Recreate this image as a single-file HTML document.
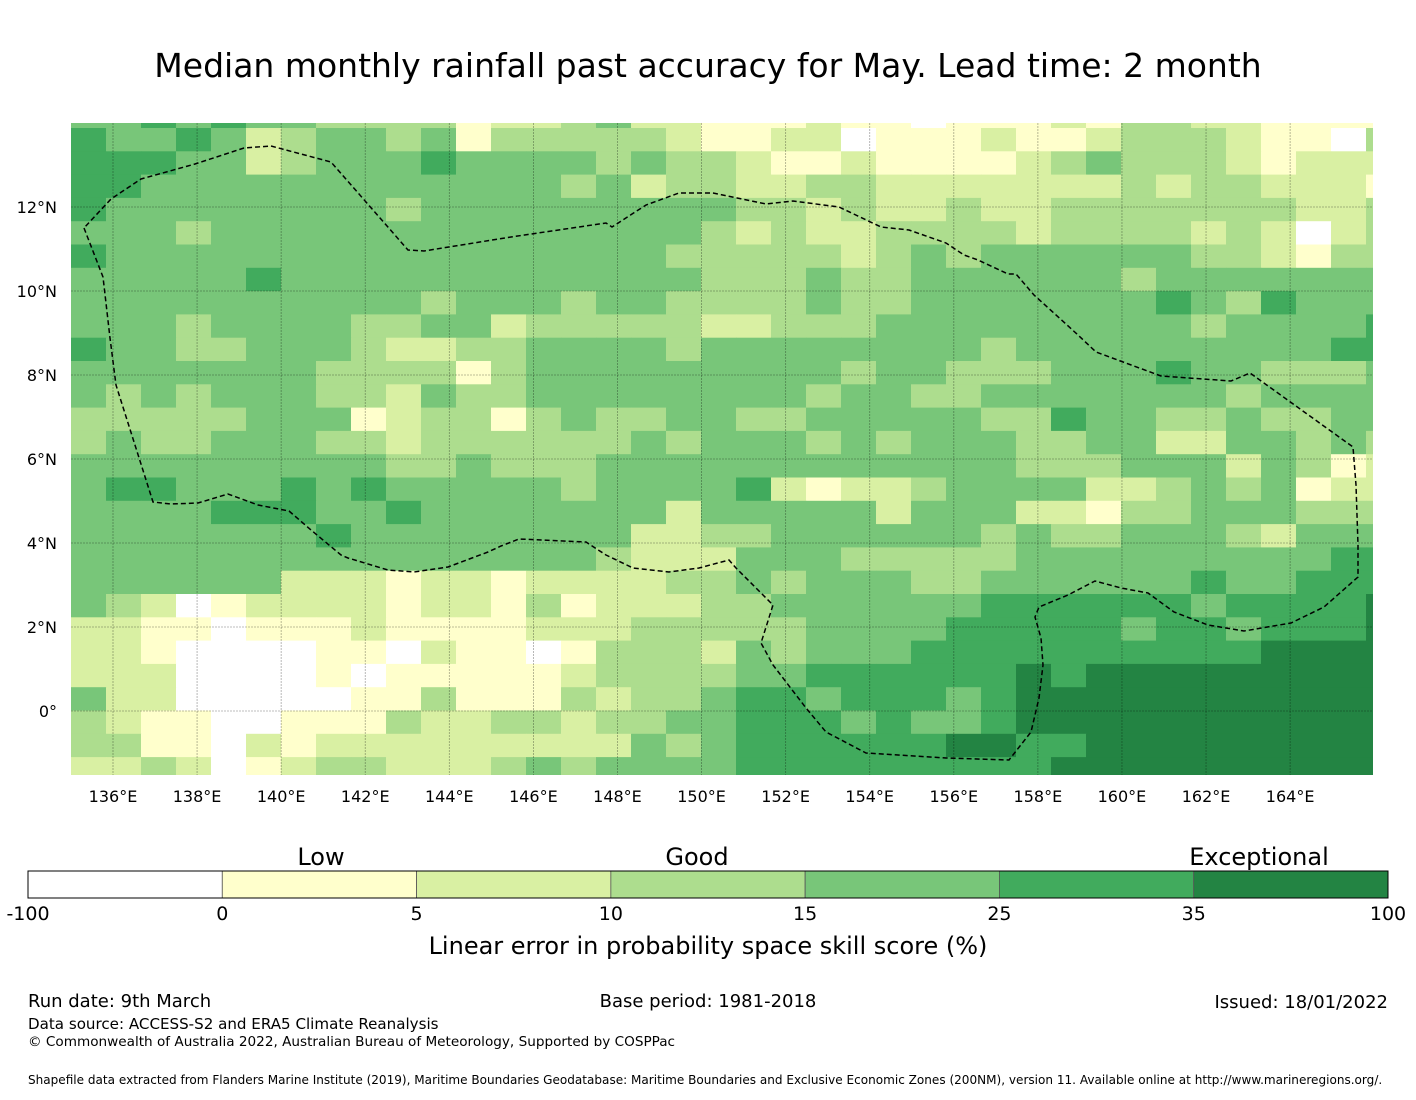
<!DOCTYPE html>
<html><head><meta charset="utf-8"><style>
html,body{margin:0;padding:0;background:#fff;}
body{width:1416px;height:1095px;overflow:hidden;font-family:"Liberation Sans","DejaVu Sans",sans-serif;}
svg text{font-family:"DejaVu Sans","Liberation Sans",sans-serif;}
</style></head><body>
<svg id="chart" width="1416" height="1095" viewBox="0 0 1416 1095" xmlns="http://www.w3.org/2000/svg">
<text x="708" y="77" text-anchor="middle" font-size="33">Median monthly rainfall past accuracy for May. Lead time: 2 month</text>
<defs><clipPath id="mapclip"><rect x="71" y="123" width="1302" height="652"/></clipPath></defs>
<g id="cells" clip-path="url(#mapclip)"></g>
<g id="grat" clip-path="url(#mapclip)"></g>
<polyline id="eez" fill="none" stroke="#000" stroke-width="1.5" stroke-dasharray="5,3" clip-path="url(#mapclip)"/>
<g id="xticks"></g>
<g id="yticks"></g>
<g id="cbar"></g>
<text x="321" y="865" text-anchor="middle" font-size="24">Low</text>
<text x="697" y="865" text-anchor="middle" font-size="24">Good</text>
<text x="1259" y="865" text-anchor="middle" font-size="24">Exceptional</text>
<text x="708" y="954" text-anchor="middle" font-size="24">Linear error in probability space skill score (%)</text>
<text x="28" y="1007" font-size="18">Run date: 9th March</text>
<text x="708" y="1007" text-anchor="middle" font-size="18">Base period: 1981-2018</text>
<text x="1388" y="1008" text-anchor="end" font-size="18">Issued: 18/01/2022</text>
<text x="28" y="1029" font-size="15.1">Data source: ACCESS-S2 and ERA5 Climate Reanalysis</text>
<text x="28" y="1046" font-size="13.6">© Commonwealth of Australia 2022, Australian Bureau of Meteorology, Supported by COSPPac</text>
<text x="28" y="1084" font-size="12.05">Shapefile data extracted from Flanders Marine Institute (2019), Maritime Boundaries Geodatabase: Maritime Boundaries and Exclusive Economic Zones (200NM), version 11. Available online at http://www.marineregions.org/.</text>
</svg>
<script>
const NS="http://www.w3.org/2000/svg";
// skill category per grid cell (row strings, north to south; digit = colour bin index)
const skillRows=[
"4454544333312234221112110"+"1112133221111",
"5445423443413333321122011"+"1211233321103",
"5554423444544443433211211"+"1123433321222",
"5544444444444434233223322"+"2222232332221",
"5444444443444444444332322"+"3223333333223",
"4443444444444444443232233"+"3323333232023",
"5444444444444444433333234"+"3444444332133",
"4444454444444444443334334"+"4444434444444",
"4444444444344434433334334"+"4444445435444",
"4443444433442333332233344"+"4444444344445",
"5443344432233444434444444"+"4344444444455",
"4444444333313444444444344"+"3334445443334",
"4343444332433444444443443"+"3444444434444",
"3333344412331343344334444"+"4335443343344",
"3433444332333333434443434"+"4433442244343",
"4444444443343334444444444"+"4433344424312",
"4554445454444434444521223"+"4444223434122",
"4444555445444444424444424"+"4422133444333",
"4444444544444444223344444"+"4343344432444",
"4444444444444443222444333"+"3344444444455",
"4444442221221222233434443"+"3444444544555",
"4320122221221312223344444"+"4555555455556",
"2211011121111222333334444"+"5555545545556",
"2210000110211013332434445"+"5555555556666",
"2220000101111123333445555"+"5565666666666",
"4220000011311132334554555"+"4566666666666",
"3211001113223323344555454"+"4566666666666",
"3311021222222222434555555"+"6655666666666",
"2232012332223434444555555"+"5556666666666"
];
const binEdges=[-100,0,5,10,15,25,35,100];
const binColors=["#ffffff","#ffffcc","#d9f0a3","#addd8e","#78c679","#41ab5d","#238443"];
const lonTicks=[136,138,140,142,144,146,148,150,152,154,156,158,160,162,164];
const latTicks=[12,10,8,6,4,2,0];
const latLabels=["12°N","10°N","8°N","6°N","4°N","2°N","0°"];
// EEZ boundary outline traced in map pixel space (geographic overlay, not data)
const eezOutline="84,228 103,277 110,338 116,385 153,502 171,504 198,503 228,494 258,505 289,511 311,530 341,555 348,558 388,570 414,572 448,567 488,552 501,546 519,539 586,542 606,555 633,568 669,572 699,568 729,560 736,568 773,605 761,643 773,665 806,708 826,732 866,753 946,758 1009,760 1031,732 1039,698 1043,665 1041,638 1035,617 1039,607 1068,595 1095,581 1121,588 1148,593 1174,612 1208,625 1244,631 1291,623 1324,607 1358,577 1358,545 1356,485 1353,447 1250,373 1231,381 1161,376 1096,352 1078,335 1034,295 1016,274 1008,274 978,260 964,255 946,243 909,230 881,227 839,207 793,201 766,204 713,193 679,193 646,205 612,227 606,223 511,237 424,251 408,250 331,162 271,146 244,148 195,164 141,179 111,199 84,228";
// axis functions
const xLon=lon=>113+(lon-136)*42.04;
const yLat=lat=>711-lat*42;
const xCol=c=>71+35*c;
const yRow=r=>r===0?123:128+23.3*(r-1);
const hRow=r=>r===0?5:23.3;

const cells=document.getElementById('cells');
skillRows.forEach((row,r)=>{
  for(let c=0;c<row.length;c++){
    const k=+row[c];
    const rc=document.createElementNS(NS,'rect');
    
    
    rc.setAttribute('x',xCol(c));rc.setAttribute('y',yRow(r));
    rc.setAttribute('width',35.4);rc.setAttribute('height',hRow(r)+0.4);
    rc.setAttribute('fill',binColors[k]);
    cells.appendChild(rc);
  }
});
const grat=document.getElementById('grat');
lonTicks.forEach(lon=>{
  const l=document.createElementNS(NS,'line');
  
  
  l.setAttribute('x1',xLon(lon));l.setAttribute('x2',xLon(lon));l.setAttribute('y1',123);l.setAttribute('y2',775);
  l.setAttribute('stroke','rgba(0,0,0,0.35)');l.setAttribute('stroke-width','0.8');l.setAttribute('stroke-dasharray','2,1');
  grat.appendChild(l);
});
latTicks.forEach(lat=>{
  const l=document.createElementNS(NS,'line');
  
  
  l.setAttribute('x1',71);l.setAttribute('x2',1373);l.setAttribute('y1',yLat(lat));l.setAttribute('y2',yLat(lat));
  l.setAttribute('stroke','rgba(0,0,0,0.35)');l.setAttribute('stroke-width','0.8');l.setAttribute('stroke-dasharray','2,1');
  grat.appendChild(l);
});
document.getElementById('eez').setAttribute('points',eezOutline);
const xt=document.getElementById('xticks');
lonTicks.forEach(lon=>{
  const t=document.createElementNS(NS,'text');
  
  
  t.setAttribute('x',xLon(lon));t.setAttribute('y',802);t.setAttribute('text-anchor','middle');t.setAttribute('font-size','16');
  t.textContent=lon+'°E';xt.appendChild(t);
});
const yt=document.getElementById('yticks');
latTicks.forEach((lat,i)=>{
  const t=document.createElementNS(NS,'text');
  
  
  t.setAttribute('x',57);t.setAttribute('y',yLat(lat)+6);t.setAttribute('text-anchor','end');t.setAttribute('font-size','16');
  t.textContent=latLabels[i];yt.appendChild(t);
});
const cb=document.getElementById('cbar');
const segW=1360/binColors.length;
binColors.forEach((col,i)=>{
  const r=document.createElementNS(NS,'rect');
  
  
  r.setAttribute('x',28+i*segW);r.setAttribute('y',871);r.setAttribute('width',segW);r.setAttribute('height',27);
  r.setAttribute('fill',col);r.setAttribute('stroke','#555');r.setAttribute('stroke-width','0.8');
  cb.appendChild(r);
});
const fr=document.createElementNS(NS,'rect');


fr.setAttribute('x',28);fr.setAttribute('y',871);fr.setAttribute('width',1360);fr.setAttribute('height',27);
fr.setAttribute('fill','none');fr.setAttribute('stroke','#000');fr.setAttribute('stroke-width','1');
cb.appendChild(fr);
binEdges.forEach((v,i)=>{
  const t=document.createElementNS(NS,'text');
  
  
  t.setAttribute('x',28+i*segW);t.setAttribute('y',920);t.setAttribute('text-anchor','middle');t.setAttribute('font-size','19');
  t.textContent=v;cb.appendChild(t);
});
</script>
</body></html>
